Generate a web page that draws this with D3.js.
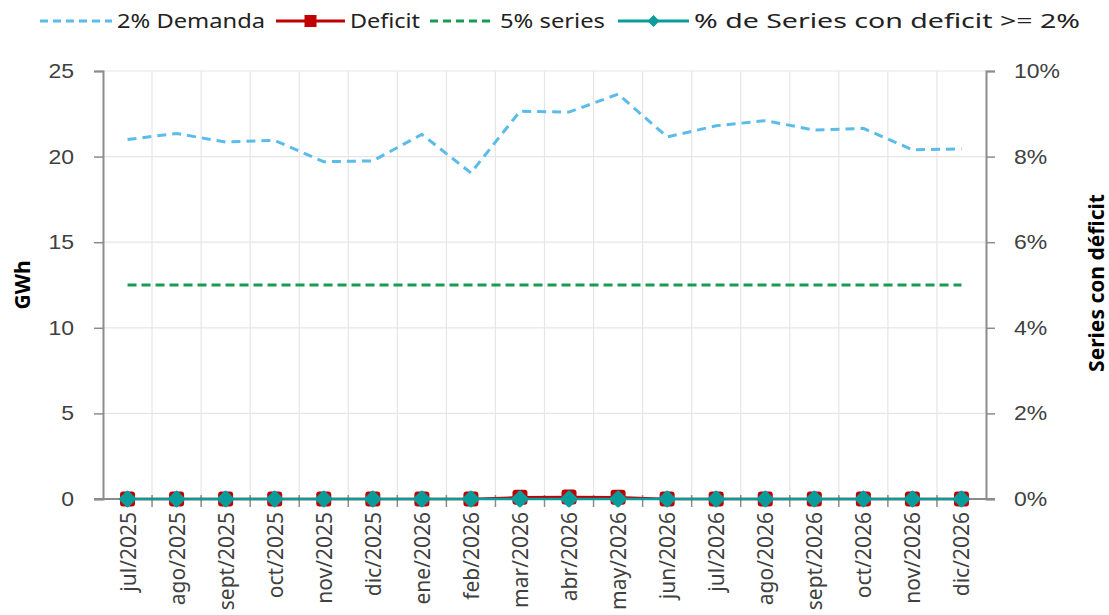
<!DOCTYPE html>
<html>
<head>
<meta charset="utf-8">
<script src="https://cdn.jsdelivr.net/npm/d3@7"></script>
<style>
  html, body { margin: 0; padding: 0; background: #fff; }
  svg { display: block; font-family: "Noto Sans", "Open Sans", sans-serif; }
</style>
</head>
<body>
<svg id="chart" width="1109" height="615"></svg>
<script>
// Monthly categories
const months = ["jul/2025","ago/2025","sept/2025","oct/2025","nov/2025","dic/2025",
  "ene/2026","feb/2026","mar/2026","abr/2026","may/2026","jun/2026",
  "jul/2026","ago/2026","sept/2026","oct/2026","nov/2026","dic/2026"];

// GWh series (left axis)
const demanda2 = [21.0, 21.35, 20.85, 20.95, 19.7, 19.75, 21.3, 19.05, 22.65, 22.6, 23.65, 21.15,
  21.8, 22.1, 21.55, 21.65, 20.4, 20.45];
const deficit = [0, 0, 0, 0, 0, 0, 0, 0, 0.1, 0.12, 0.1, 0, 0, 0, 0, 0, 0, 0];
const series5 = [12.5, 12.5, 12.5, 12.5, 12.5, 12.5, 12.5, 12.5, 12.5, 12.5, 12.5, 12.5,
  12.5, 12.5, 12.5, 12.5, 12.5, 12.5];

// Share of series with deficit >= 2% (right axis)
const pctSeries = [0, 0, 0, 0, 0, 0, 0, 0, 0, 0, 0, 0, 0, 0, 0, 0, 0, 0];

const leftTicks = [0, 5, 10, 15, 20, 25];
const rightTicks = [0, 0.02, 0.04, 0.06, 0.08, 0.10];

const svg = d3.select("#chart");
const m = { left: 103, right: 986, top: 71, bottom: 499 };

const x = d3.scaleBand().domain(months).range([m.left, m.right]);
const yL = d3.scaleLinear().domain([0, 25]).range([m.bottom, m.top]);
const yR = d3.scaleLinear().domain([0, 0.10]).range([m.bottom, m.top]);

const gridColor = "#e6e6e6";
const axisColor = "#8c8c8c";
const textColor = "#404040";

// Horizontal gridlines
svg.append("g").selectAll("line").data(leftTicks.filter(d => d > 0)).join("line")
  .attr("x1", m.left).attr("x2", m.right)
  .attr("y1", d => yL(d)).attr("y2", d => yL(d))
  .attr("stroke", gridColor).attr("stroke-width", 1.2);

// Vertical gridlines at category boundaries
const bounds = months.slice(1).map(d => x(d));
svg.append("g").selectAll("line").data(bounds).join("line")
  .attr("x1", d => d).attr("x2", d => d)
  .attr("y1", m.top).attr("y2", m.bottom)
  .attr("stroke", gridColor).attr("stroke-width", 1.2);

// Left axis
const gL = svg.append("g").attr("transform", `translate(${m.left},0)`)
  .call(d3.axisLeft(yL).tickValues(leftTicks).tickSize(9).tickPadding(20));
gL.selectAll(".tick text").attr("font-size", 20).attr("fill", textColor)
  .attr("transform", "translate(-29,0) scale(1.15,1) translate(29,0)");

// Right axis
const gR = svg.append("g").attr("transform", `translate(${m.right},0)`)
  .call(d3.axisRight(yR).tickValues(rightTicks).tickSize(9).tickPadding(19)
    .tickFormat(d3.format(".0%")));
gR.selectAll(".tick text").attr("font-size", 20).attr("fill", textColor)
  .attr("transform", "translate(28,0) scale(1.15,1) translate(-28,0)");

// Bottom axis: ticks at category boundaries crossing the baseline
const gB = svg.append("g");
gB.append("line").attr("x1", m.left - 9).attr("x2", m.right + 9)
  .attr("y1", m.bottom).attr("y2", m.bottom).attr("stroke", axisColor).attr("stroke-width", 2);
gB.selectAll("line.tk").data(bounds).join("line").attr("class", "tk")
  .attr("x1", d => d).attr("x2", d => d)
  .attr("y1", m.bottom - 4).attr("y2", m.bottom + 8)
  .attr("stroke", axisColor).attr("stroke-width", 1.5);
gB.selectAll("text").data(months).join("text")
  .attr("transform", d => `translate(${x(d) + x.bandwidth() / 2 + 8},${m.bottom + 13}) rotate(-90)`)
  .attr("text-anchor", "end")
  .attr("font-size", 21).attr("fill", textColor)
  .text(d => d);

[gL, gR].forEach(g => {
  g.select(".domain").attr("stroke", axisColor).attr("stroke-width", 2);
  g.selectAll(".tick line").attr("stroke", axisColor).attr("stroke-width", 1.5);
});
// zero tick on the left axis crosses the axis line
gL.append("line").attr("x1", 0).attr("x2", 6).attr("y1", yL(0)).attr("y2", yL(0))
  .attr("stroke", axisColor).attr("stroke-width", 1.5);

// Axis titles
svg.append("text").attr("transform", `translate(30,${(m.top + m.bottom) / 2}) rotate(-90)`)
  .attr("text-anchor", "middle").attr("font-size", 21).attr("font-weight", "bold")
  .attr("fill", "#000").text("GWh");
svg.append("text").attr("transform", `translate(1104,${(m.top + m.bottom) / 2 - 2}) rotate(-90)`)
  .attr("text-anchor", "middle").attr("font-size", 21).attr("font-weight", "bold")
  .attr("fill", "#000").text("Series con déficit");

const cx = d => x(d) + x.bandwidth() / 2;
const blue = "#5bbcea", red = "#c00000", green = "#1a9b55", teal = "#0a9b9b";

const lineL = vals => d3.line().x((d, i) => cx(months[i])).y(d => yL(d))(vals);
const lineR = vals => d3.line().x((d, i) => cx(months[i])).y(d => yR(d))(vals);

// 2% demanda
svg.append("path").attr("d", lineL(demanda2)).attr("fill", "none")
  .attr("stroke", blue).attr("stroke-width", 3).attr("stroke-dasharray", "9,6");
// 5% series
svg.append("path").attr("d", lineL(series5)).attr("fill", "none")
  .attr("stroke", green).attr("stroke-width", 3).attr("stroke-dasharray", "9,5");
// Deficit
svg.append("path").attr("d", lineL(deficit)).attr("fill", "none")
  .attr("stroke", red).attr("stroke-width", 2.5);
svg.append("g").selectAll("rect").data(deficit).join("rect")
  .attr("x", (d, i) => cx(months[i]) - 7.5).attr("y", d => yL(d) - 7.5)
  .attr("width", 15).attr("height", 15).attr("rx", 3)
  .attr("fill", red);
// % series con deficit (rounded diamond markers)
svg.append("path").attr("d", lineR(pctSeries)).attr("fill", "none")
  .attr("stroke", teal).attr("stroke-width", 2.5);
svg.append("g").selectAll("path.mk").data(pctSeries).join("path").attr("class", "mk")
  .attr("d", d3.symbol().type(d3.symbolSquare).size(80))
  .attr("transform", (d, i) => `translate(${cx(months[i])},${yR(d)}) rotate(45)`)
  .attr("stroke", teal).attr("stroke-width", 4).attr("stroke-linejoin", "round")
  .attr("fill", teal);

// Legend
const legend = [
  { name: "2% Demanda", color: blue, dash: "8,5", marker: null, lx: 40, tx: 117, tw: 148 },
  { name: "Deficit", color: red, dash: null, marker: "square", lx: 276, tx: 350, tw: 70 },
  { name: "5% series", color: green, dash: "8,5", marker: null, lx: 430, tx: 500, tw: 105 },
  { name: "% de Series con deficit >= 2%", color: teal, dash: null, marker: "diamond", lx: 618, tx: 694, tw: 386 }
];
const lg = svg.append("g").attr("transform", "translate(0,21)");
legend.forEach(it => {
  const g = lg.append("g");
  g.append("line").attr("x1", it.lx).attr("x2", it.tx - 5).attr("y1", 0).attr("y2", 0)
    .attr("stroke", it.color).attr("stroke-width", 3)
    .attr("stroke-dasharray", it.dash);
  const mid = (it.lx + it.tx - 5) / 2;
  if (it.marker === "square") {
    g.append("rect").attr("x", mid - 6).attr("y", -6).attr("width", 12).attr("height", 12).attr("fill", it.color);
  } else if (it.marker === "diamond") {
    g.append("path").attr("d", d3.symbol().type(d3.symbolSquare).size(72))
      .attr("transform", `translate(${mid},0) rotate(45)`).attr("fill", it.color);
  }
  g.append("text").attr("x", it.tx).attr("y", 7).attr("font-size", 20)
    .attr("textLength", it.tw).attr("lengthAdjust", "spacingAndGlyphs")
    .attr("fill", "#222").text(it.name);
});
</script>
</body>
</html>
